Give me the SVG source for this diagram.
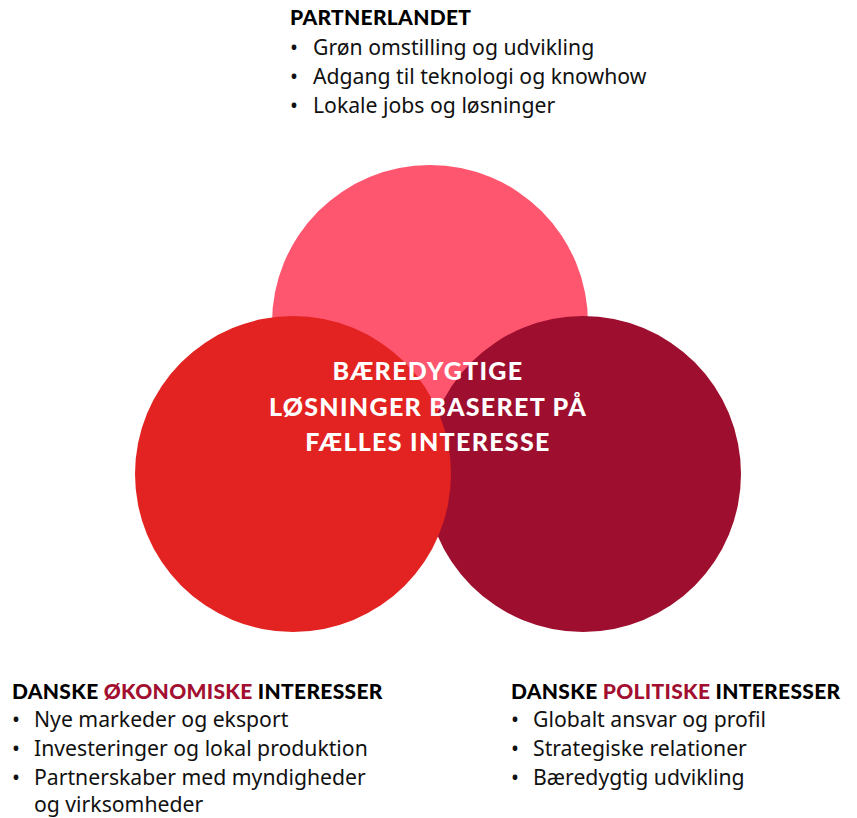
<svg xmlns="http://www.w3.org/2000/svg" width="857" height="818" viewBox="0 0 857 818">
<style>
.h{font-family:"Lato","Open Sans",sans-serif;font-weight:900;font-size:21px;fill:#000;letter-spacing:0.3px}
.r{fill:#A20F30}
.b{font-family:"Noto Sans","Open Sans",sans-serif;font-size:21.2px;fill:#111}
.c{font-family:"Lato","Open Sans",sans-serif;font-weight:900;font-size:25px;fill:#fff;text-anchor:middle;letter-spacing:1.3px}
</style>
<rect width="857" height="818" fill="#fff"/>
<g id="partnerlandet">
<circle cx="430" cy="323" r="158" fill="#FF5670"/>
</g>
<g id="politiske">
<circle cx="583" cy="474" r="158" fill="#9E0E2E"/>
</g>
<g id="okonomiske">
<circle cx="293" cy="474" r="158" fill="#E32321"/>
</g>
<g id="connectors"></g>
<g id="center">
<text class="c" x="428" y="380">BÆREDYGTIGE</text>
<text class="c" x="428" y="416">LØSNINGER BASERET PÅ</text>
<text class="c" x="428" y="451">FÆLLES INTERESSE</text>
</g>
<g id="label-top">
<text class="h" x="290" y="25">PARTNERLANDET</text>
<text class="b" x="290" y="55">•</text><text class="b" x="313" y="55">Grøn omstilling og udvikling</text>
<text class="b" x="290" y="84">•</text><text class="b" x="313" y="84">Adgang til teknologi og knowhow</text>
<text class="b" x="290" y="113">•</text><text class="b" x="313" y="113">Lokale jobs og løsninger</text>
</g>
<g id="label-left">
<text class="h" x="12" y="699">DANSKE <tspan class="r">ØKONOMISKE</tspan> INTERESSER</text>
<text class="b" x="12" y="727">•</text><text class="b" x="34" y="727">Nye markeder og eksport</text>
<text class="b" x="12" y="756">•</text><text class="b" x="34" y="756">Investeringer og lokal produktion</text>
<text class="b" x="12" y="785">•</text><text class="b" x="34" y="785">Partnerskaber med myndigheder</text>
<text class="b" x="34" y="812">og virksomheder</text>
</g>
<g id="label-right">
<text class="h" x="511" y="699">DANSKE <tspan class="r">POLITISKE</tspan> INTERESSER</text>
<text class="b" x="511" y="727">•</text><text class="b" x="533" y="727">Globalt ansvar og profil</text>
<text class="b" x="511" y="756">•</text><text class="b" x="533" y="756">Strategiske relationer</text>
<text class="b" x="511" y="785">•</text><text class="b" x="533" y="785">Bæredygtig udvikling</text>
</g>
</svg>
